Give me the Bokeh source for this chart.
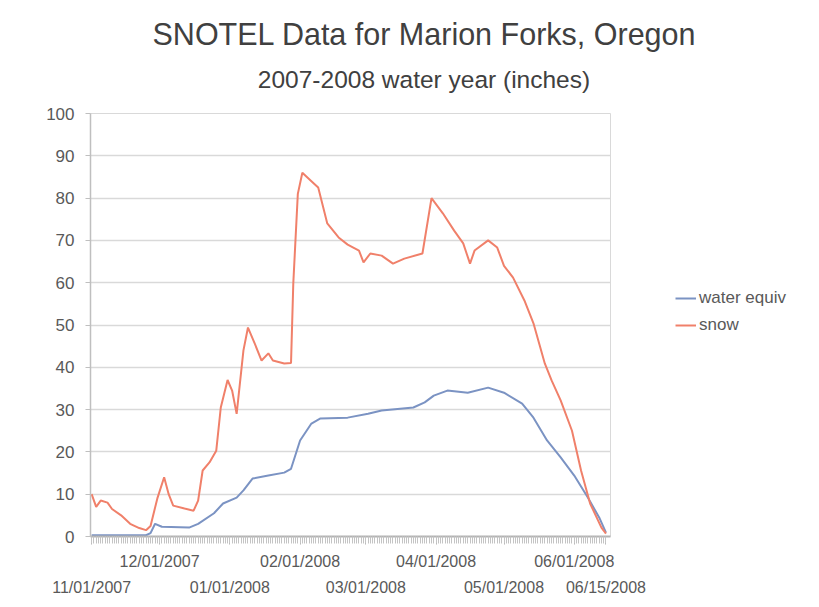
import pandas as pd
from bokeh.plotting import figure
from bokeh.layouts import column, row
from bokeh.models import (LinearAxis, FixedTicker, Legend, LegendItem, Div,
                          Range1d, ColumnDataSource)
from bokeh.embed import file_html
from bokeh.resources import INLINE

# ---------------- data ----------------
start_date = "2007-11-01"

snow_dates = ["2007-11-01", "2007-11-03", "2007-11-05", "2007-11-08", "2007-11-10",
              "2007-11-14", "2007-11-18", "2007-11-22", "2007-11-25", "2007-11-27",
              "2007-11-30", "2007-12-03", "2007-12-05", "2007-12-07", "2007-12-12",
              "2007-12-16", "2007-12-18", "2007-12-20", "2007-12-23", "2007-12-26",
              "2007-12-28", "2007-12-31", "2008-01-02", "2008-01-04", "2008-01-07",
              "2008-01-09", "2008-01-12", "2008-01-15", "2008-01-18", "2008-01-20",
              "2008-01-25", "2008-01-28", "2008-01-29", "2008-01-31", "2008-02-02",
              "2008-02-06", "2008-02-09", "2008-02-13", "2008-02-18", "2008-02-22",
              "2008-02-27", "2008-02-29", "2008-03-03", "2008-03-08", "2008-03-13",
              "2008-03-18", "2008-03-26", "2008-03-30", "2008-04-04", "2008-04-09",
              "2008-04-13", "2008-04-16", "2008-04-18", "2008-04-24", "2008-04-28",
              "2008-05-01", "2008-05-05", "2008-05-10", "2008-05-14", "2008-05-19",
              "2008-05-22", "2008-05-26", "2008-05-31", "2008-06-04", "2008-06-08",
              "2008-06-13", "2008-06-15"]
snow_values = [10, 7, 8.5, 8, 6.5,
               5, 3, 2, 1.5, 2.5,
               9, 14, 10, 7.3, 6.6,
               6.1, 8.5, 15.6, 17.5, 20.3,
               30.5, 37, 34.5, 29, 44,
               49.4, 45.6, 41.6, 43.3, 41.6,
               40.9, 41, 59.8, 81, 86,
               84, 82.5, 74, 70.7, 69,
               67.6, 64.8, 66.9, 66.4, 64.5,
               65.7, 66.9, 80, 76.4, 72.3,
               69.3, 64.5, 67.6, 70, 68.3,
               64, 61.2, 55.8, 50.4, 40.9,
               36.9, 32.2, 25, 15.6, 7.8,
               2.1, 0.7]

swe_dates = ["2007-11-01", "2007-11-25", "2007-11-27", "2007-11-29", "2007-12-02",
             "2007-12-14", "2007-12-18", "2007-12-25", "2007-12-29", "2008-01-04",
             "2008-01-07", "2008-01-11", "2008-01-18", "2008-01-25", "2008-01-28",
             "2008-02-01", "2008-02-06", "2008-02-10", "2008-02-22", "2008-03-02",
             "2008-03-08", "2008-03-22", "2008-03-27", "2008-03-31", "2008-04-06",
             "2008-04-15", "2008-04-24", "2008-05-01", "2008-05-09", "2008-05-14",
             "2008-05-20", "2008-05-26", "2008-06-01", "2008-06-07", "2008-06-12",
             "2008-06-15"]
swe_values = [0.3, 0.3, 0.8, 3, 2.3,
              2.1, 3, 5.5, 7.8, 9.2,
              10.9, 13.7, 14.4, 15.1, 16,
              22.7, 26.7, 27.9, 28.1, 29,
              29.8, 30.5, 31.7, 33.3, 34.5,
              34, 35.2, 34, 31.4, 28.1,
              22.7, 18.7, 14.4, 9.2, 4.5,
              0.9]

row1_ticks = ["12/01/2007", "02/01/2008", "04/01/2008", "06/01/2008"]
row2_ticks = ["11/01/2007", "01/01/2008", "03/01/2008", "05/01/2008", "06/15/2008"]
y_ticks = [0, 10, 20, 30, 40, 50, 60, 70, 80, 90, 100]

title_text = "SNOTEL Data for Marion Forks, Oregon"
subtitle_text = "2007-2008 water year (inches)"
series_names = ["water equiv", "snow"]
series_colors = ["#7b93c3", "#f0806a"]

# ---------------- helpers ----------------
t0 = pd.Timestamp(start_date)


def to_days(dates, fmt=None):
    return [int((pd.to_datetime(d, format=fmt) - t0).days) for d in dates]


snow_src = ColumnDataSource(dict(x=to_days(snow_dates), y=snow_values))
swe_src = ColumnDataSource(dict(x=to_days(swe_dates), y=swe_values))
row1_pos = to_days(row1_ticks, "%m/%d/%Y")
row2_pos = to_days(row2_ticks, "%m/%d/%Y")
last_day = max(row2_pos)

FONT = "Liberation Sans"
LABEL_COLOR = "#595959"
TITLE_COLOR = "#404040"
GRID = "#d9d9d9"
PLOT_H = 496

# ---------------- titles ----------------
title_div = Div(
    text=(f'<div style="box-sizing:border-box; width:811px; padding-left:37px;'
          f' text-align:center; font-family:\'{FONT}\'; color:{TITLE_COLOR};'
          f' white-space:nowrap;">'
          f'<div style="font-size:30.5px; line-height:36px; margin-top:16px;">{title_text}</div>'
          f'<div style="font-size:24.5px; line-height:28px; margin-top:14px;">{subtitle_text}</div>'
          f'</div>'),
    width=811, height=103, margin=0)

# ---------------- plot ----------------
p = figure(width=660, height=PLOT_H, output_backend="svg", toolbar_location=None,
           x_range=Range1d(-0.5, last_day + 2), y_range=Range1d(0, 100),
           min_border_left=90, min_border_right=50, min_border_top=10,
           min_border_bottom=63, margin=0)
p.background_fill_color = "white"
p.border_fill_color = "white"
p.outline_line_color = GRID
p.outline_line_width = 1

# grid
p.xgrid.grid_line_color = None
p.ygrid.grid_line_color = GRID
p.ygrid.grid_line_width = 1.5

# y axis
p.yaxis.ticker = FixedTicker(ticks=y_ticks)
p.yaxis.axis_line_color = "#bfbfbf"
p.yaxis.axis_line_width = 1.5
p.yaxis.major_tick_line_color = "#bfbfbf"
p.yaxis.major_tick_out = 5
p.yaxis.major_tick_in = 0
p.yaxis.minor_tick_line_color = None
p.yaxis.major_label_text_font = FONT
p.yaxis.major_label_text_font_size = "17px"
p.yaxis.major_label_text_color = LABEL_COLOR
p.yaxis.major_label_standoff = 11

# x axis row 1 (with dense tick band)
xa = p.xaxis[0]
xa.ticker = FixedTicker(ticks=sorted(row1_pos + row2_pos),
                        minor_ticks=list(range(0, last_day + 1)))
xa.major_label_overrides = {**{d: t for d, t in zip(row1_pos, row1_ticks)},
                            **{d: " " for d in row2_pos}}
xa.axis_line_color = "#b3b3b3"
xa.axis_line_width = 2
xa.major_tick_line_color = "#b3b3b3"
xa.major_tick_out = 8
xa.major_tick_in = 0
xa.minor_tick_line_color = "#c4c4c4"
xa.minor_tick_out = 7
xa.minor_tick_in = 0
xa.major_label_text_font = FONT
xa.major_label_text_font_size = "16px"
xa.major_label_text_color = LABEL_COLOR
xa.major_label_standoff = 8

# x axis row 2 (staggered labels)
xb = LinearAxis(ticker=FixedTicker(ticks=row2_pos),
                major_label_overrides={d: t for d, t in zip(row2_pos, row2_ticks)})
xb.axis_line_color = None
xb.major_tick_line_color = None
xb.minor_tick_line_color = None
xb.major_label_text_font = FONT
xb.major_label_text_font_size = "16px"
xb.major_label_text_color = LABEL_COLOR
xb.major_label_standoff = 0
p.add_layout(xb, "below")

# series
sources = [swe_src, snow_src]
for src, c in zip(sources, series_colors):
    p.line("x", "y", source=src, line_color=c, line_width=2)

# ---------------- legend panel (right) ----------------
# same series drawn in a side figure whose y range lies below all data,
# so only the legend keys are visible there
lf = figure(width=811 - 660, height=PLOT_H, output_backend="svg",
            toolbar_location=None, min_border=0, margin=0,
            x_range=Range1d(0, 1), y_range=Range1d(-2, -1))
lf.axis.visible = False
lf.grid.visible = False
lf.outline_line_color = None
lf.background_fill_color = "white"
lf.border_fill_color = "white"
key_renderers = [lf.line("x", "y", source=src, line_color=c, line_width=2)
                 for src, c in zip(sources, series_colors)]

legend = Legend(items=[LegendItem(label=n, renderers=[r])
                       for n, r in zip(series_names, key_renderers)],
                location=(15, 201))
legend.border_line_color = None
legend.background_fill_alpha = 0
legend.label_text_font = FONT
legend.label_text_font_size = "17px"
legend.label_text_color = LABEL_COLOR
legend.glyph_width = 21
legend.glyph_height = 20
legend.label_height = 20
legend.spacing = 7
legend.padding = 0
legend.margin = 0
legend.label_standoff = 3
lf.add_layout(legend)

layout = column(title_div, row(p, lf, spacing=0), spacing=0)

open("out.html", "w").write(file_html(layout, INLINE))
